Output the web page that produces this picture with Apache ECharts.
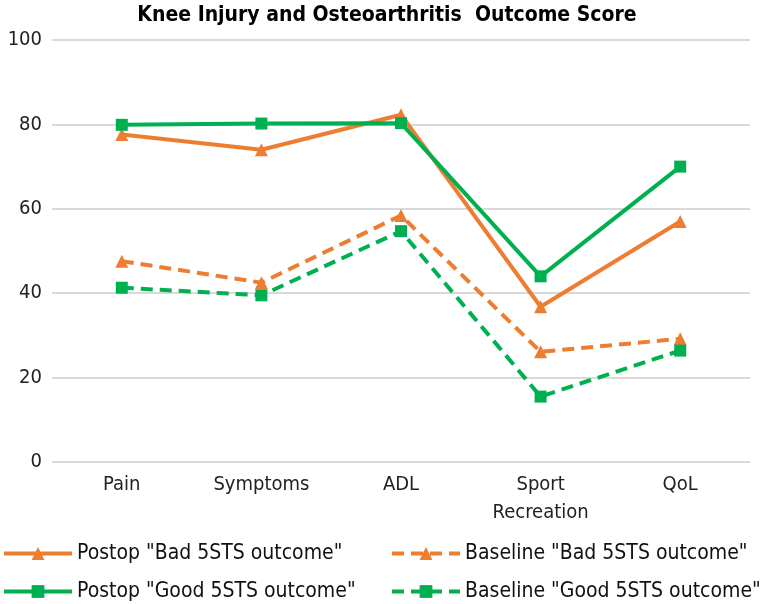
<!DOCTYPE html>
<html>
<head>
<meta charset="utf-8">
<title>KOOS</title>
<script src="https://cdn.jsdelivr.net/npm/echarts@6/dist/echarts.min.js"></script>
<style>
  html, body { margin: 0; padding: 0; background: #fff; }
  #chart { width: 774px; height: 604px; }
</style>
</head>
<body>
<div id="chart"></div>
<script>
    var categories = ['Pain', 'Symptoms', 'ADL', 'Sport\nRecreation', 'QoL'];
    var postopBad = [77.6, 74.0, 82.3, 36.8, 57.0];
    var postopGood = [79.9, 80.2, 80.3, 44.0, 70.0];
    var baselineBad = [47.6, 42.5, 58.4, 26.1, 29.2];
    var baselineGood = [41.3, 39.5, 54.7, 15.5, 26.4];
    var yTicks = [0, 20, 40, 60, 80, 100];

    var ORANGE = '#ED7D31',
        GREEN = '#00B050';
    var font = '"DejaVu Sans Condensed", "Liberation Sans Narrow", sans-serif';

    function line(name, data, color, symbol, dashed) {
        return {
            name: name,
            type: 'line',
            data: data,
            symbol: symbol,
            symbolSize: symbol == 'rect' ? 12 : 13,
            itemStyle: { color: color },
            lineStyle: {
                color: color,
                width: 4,
                type: dashed ? [12, 7] : 'solid'
            },
            z: dashed ? 2 : 3
        };
    }

    // one legend per entry so the 2x2 layout sits where the original has it
    function legendAt(name, left, top, w) {
        return {
            left: left,
            top: top,
            padding: 0,
            itemWidth: w,
            itemHeight: 16,
            itemGap: 0,
            lineStyle: { width: 4 },
            textStyle: { fontFamily: font, fontSize: 21, color: '#111' },
            data: [name]
        };
    }

    var chart = echarts.init(document.getElementById('chart'));
    var option = {
        animation: false,
        title: {
            text: 'Knee Injury and Osteoarthritis  Outcome Score',
            left: 'center',
            top: 0,
            textStyle: { fontFamily: font, fontSize: 21, fontWeight: 'bold', color: '#000' }
        },
        grid: { left: 52, right: 24, top: 40, bottom: 142 },
        xAxis: {
            type: 'category',
            data: categories,
            axisLine: { show: false },
            axisTick: { show: false },
            axisLabel: { fontFamily: font, fontSize: 20, color: '#222', margin: 9, lineHeight: 28 }
        },
        yAxis: {
            type: 'value',
            min: yTicks[0],
            max: yTicks[yTicks.length - 1],
            interval: 20,
            axisLine: { show: false },
            axisTick: { show: false },
            axisLabel: { fontFamily: font, fontSize: 20, color: '#222', margin: 10 },
            splitLine: { lineStyle: { color: '#d9d9d9', width: 2 } }
        },
        legend: [
            legendAt('Postop "Bad 5STS outcome"', 2, 543, 68),
            legendAt('Postop "Good 5STS outcome"', 2, 581, 68),
            legendAt('Baseline "Bad 5STS outcome"', 390, 543, 68),
            legendAt('Baseline "Good 5STS outcome"', 390, 581, 68)
        ],
        series: [
            line('Postop "Bad 5STS outcome"', postopBad, ORANGE, 'triangle', false),
            line('Baseline "Bad 5STS outcome"', baselineBad, ORANGE, 'triangle', true),
            line('Postop "Good 5STS outcome"', postopGood, GREEN, 'rect', false),
            line('Baseline "Good 5STS outcome"', baselineGood, GREEN, 'rect', true)
        ]
    };
    chart.setOption(option);
</script>
</body>
</html>
